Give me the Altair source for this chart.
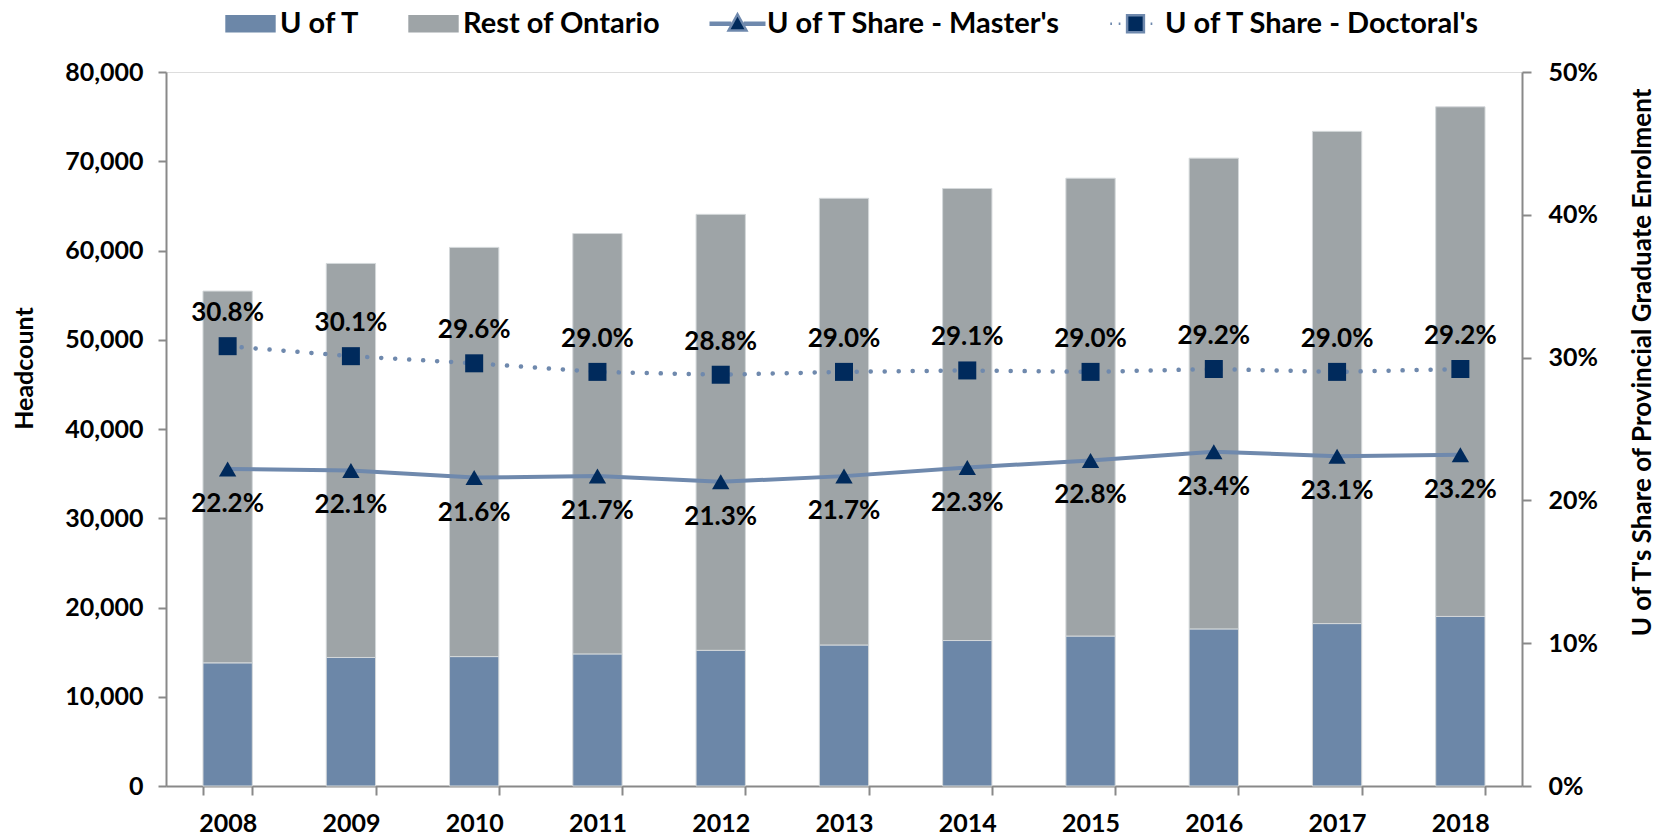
import altair as alt
import pandas as pd

years = ["2008", "2009", "2010", "2011", "2012", "2013", "2014", "2015", "2016", "2017", "2018"]
uoft = [13800, 14400, 14500, 14800, 15200, 15800, 16300, 16800, 17600, 18200, 19000]
rest = [41650, 44150, 45850, 47100, 48850, 50050, 50650, 51300, 52750, 55150, 57100]
masters_share = [0.222, 0.221, 0.216, 0.217, 0.213, 0.217, 0.223, 0.228, 0.234, 0.231, 0.232]
doctoral_share = [0.308, 0.301, 0.296, 0.290, 0.288, 0.290, 0.291, 0.290, 0.292, 0.290, 0.292]
legend_labels = ["U of T", "Rest of Ontario", "U of T Share - Master's", "U of T Share - Doctoral's"]

C_UOFT = "#6C87A8"
C_REST = "#9EA4A7"
C_LINE = "#6F89AD"
C_NAVY = "#002A5C"
GRAY = "#898989"
FONT = "Lato"

bar_rows = []
for i, y in enumerate(years):
    bar_rows.append({"year": y, "series": legend_labels[0], "value": uoft[i], "ord": 0})
    bar_rows.append({"year": y, "series": legend_labels[1], "value": rest[i], "ord": 1})
bar_df = pd.DataFrame(bar_rows)
m_df = pd.DataFrame({"year": years, "pct": masters_share})
d_df = pd.DataFrame({"year": years, "pct": doctoral_share})

x_enc = alt.X(
    "year:N", title=None,
    scale=alt.Scale(paddingInner=0.6, paddingOuter=0.3),
    axis=alt.Axis(labelAngle=0, labelFont=FONT, labelFontWeight="bold", labelFontSize=25,
                  labelColor="black", domainColor=GRAY, domainWidth=2, tickColor=GRAY,
                  tickWidth=2, tickSize=9, tickBand="extent", labelPadding=16),
)

shapes = [
    "M-0.9,-0.31H0.9V0.31H-0.9Z",
    "M-0.9,-0.31H0.9V0.31H-0.9Z",
    "M-1,-0.04H-0.22M-1,0.04H-0.22M0.22,-0.04H1M0.22,0.04H1M0,-0.34L0.32,0.24H-0.32Z",
    "M-0.9,0H-0.84M-0.6,0H-0.54M0.54,0H0.6M-0.3,-0.3H0.3V0.3H-0.3Z",
]
fills = [C_UOFT, C_REST, C_NAVY, C_NAVY]
strokes = ["transparent", "transparent", C_LINE, C_LINE]


def arr(lst):
    return "[" + ",".join("'" + s + "'" for s in lst) + "]"


legend = alt.Legend(
    orient="none", legendX=55, legendY=-78, direction="horizontal", title=None,
    symbolSize=3136, labelFont=FONT, labelFontWeight="bold", labelFontSize=29,
    labelColor="black", columnPadding=43, labelOffset=0, labelLimit=600,
    symbolType=alt.ExprRef(expr=arr(shapes) + "[datum.index]"),
    symbolFillColor=alt.ExprRef(expr=arr(fills) + "[datum.index]"),
    symbolStrokeColor=alt.ExprRef(expr=arr(strokes) + "[datum.index]"),
    symbolStrokeWidth=2.5,
    symbolOpacity=1,
)

bars = alt.Chart(bar_df).mark_bar(stroke="#d4d8da", strokeWidth=1).encode(
    x=x_enc,
    y=alt.Y("value:Q", stack="zero", title="Headcount",
            scale=alt.Scale(domain=[0, 80000], nice=False),
            axis=alt.Axis(values=[0, 10000, 20000, 30000, 40000, 50000, 60000, 70000, 80000],
                          format=",.0f", grid=False, labelFont=FONT, labelFontWeight="bold",
                          labelFontSize=25, labelColor="black", labelPadding=15,
                          domainColor=GRAY, domainWidth=2, tickColor=GRAY, tickWidth=2, tickSize=8,
                          titleFont=FONT, titleFontWeight="bold", titleFontSize=25, titleColor="black",
                          titleAngle=270, titleBaseline="middle", titleAlign="center",
                          titleX=-142, titleY=296)),
    color=alt.Color("series:N", scale=alt.Scale(domain=legend_labels,
                    range=[C_UOFT, C_REST, C_NAVY, C_NAVY]), legend=legend),
    order=alt.Order("ord:Q", sort="ascending"),
)

y_right = alt.Y(
    "pct:Q", title="U of T's Share of Provincial Graduate Enrolment",
    scale=alt.Scale(domain=[0, 0.5], nice=False),
    axis=alt.Axis(orient="right", values=[0, 0.1, 0.2, 0.3, 0.4, 0.5], format=".0%", grid=False,
                  labelFont=FONT, labelFontWeight="bold", labelFontSize=25, labelColor="black",
                  labelPadding=17, domainColor=GRAY, domainWidth=2, tickColor=GRAY, tickWidth=2,
                  tickSize=9, titleFont=FONT, titleFontWeight="bold", titleFontSize=26,
                  titleColor="black", titleAngle=270, titleBaseline="middle", titleAlign="center",
                  titleX=120, titleY=290),
)

m_line = alt.Chart(m_df).mark_line(color=C_LINE, strokeWidth=4).encode(x=x_enc, y=y_right)
d_line = alt.Chart(d_df).mark_line(color=C_LINE, strokeWidth=4.5, strokeDash=[0.1, 13.9],
                                   strokeCap="round").encode(x=x_enc, y=y_right)
m_pts = alt.Chart(m_df).mark_point(shape="triangle-up", filled=True, size=300, color=C_NAVY,
                                   opacity=1).encode(x=x_enc, y=y_right)
d_pts = alt.Chart(d_df).mark_point(shape="square", filled=True, size=324, color=C_NAVY,
                                   opacity=1).encode(x=x_enc, y=y_right)
m_txt = alt.Chart(m_df).mark_text(dy=35, font=FONT, fontWeight="bold", fontSize=26,
                                  color="black", baseline="middle").encode(
    x=x_enc, y=y_right, text=alt.Text("pct:Q", format=".1%"))
d_txt = alt.Chart(d_df).mark_text(dy=-33, font=FONT, fontWeight="bold", fontSize=26,
                                  color="black", baseline="middle").encode(
    x=x_enc, y=y_right, text=alt.Text("pct:Q", format=".1%"))

right = alt.layer(m_line, d_line, m_pts, d_pts, m_txt, d_txt)

chart = alt.layer(bars, right).resolve_scale(y="independent").properties(
    width=1356, height=714,
    autosize=alt.AutoSizeParams(type="none"),
    padding={"left": 166, "top": 72, "right": 141, "bottom": 54},
).configure_view(stroke=None).configure(background="white")

chart.save("out.html", embed_options={"renderer": "svg", "actions": False})
